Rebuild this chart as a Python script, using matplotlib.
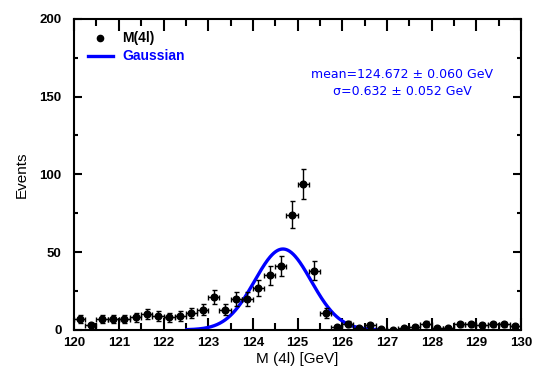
"""M(4l) spectrum with Gaussian fit, recreated in matplotlib."""

import matplotlib
matplotlib.use("Agg")
import matplotlib.pyplot as plt
import numpy as np

# --- data ---
mass = [120.125, 120.375, 120.625, 120.875, 121.125, 121.375, 121.625, 121.875,
        122.125, 122.375, 122.625, 122.875, 123.125, 123.375, 123.625, 123.875,
        124.125, 124.375, 124.625, 124.875, 125.125, 125.375, 125.625, 125.875,
        126.125, 126.375, 126.625, 126.875, 127.125, 127.375, 127.625, 127.875,
        128.125, 128.375, 128.625, 128.875, 129.125, 129.375, 129.625, 129.875]
events = [7, 3, 7, 7, 7, 8, 10, 9,
          8, 9, 11, 13, 21, 13, 20, 20,
          27, 35, 41, 74, 94, 38, 11, 2,
          4, 1, 3, 0.5, 0, 1, 2, 4,
          1, 1, 3.5, 3.5, 3, 3.5, 3.5, 2.5]
half_bin = 0.125

fit_mean = 124.672
fit_mean_err = 0.060
fit_sigma = 0.632
fit_sigma_err = 0.052
fit_amp = 52.0
fit_range = (122.52, 126.82)

BLUE = "#0000ff"
SANS = ["Liberation Sans", "DejaVu Sans"]

plt.rcParams.update({
    "font.family": SANS,
    "axes.linewidth": 1.5,
    "xtick.direction": "in",
    "ytick.direction": "in",
    "xtick.top": True,
    "ytick.right": True,
})

fig = plt.figure(figsize=(5.45, 3.77), dpi=100)
ax = fig.add_axes([0.136, 0.125, 0.820, 0.825])

ev = np.asarray(events, dtype=float)
ax.errorbar(mass, ev, yerr=np.sqrt(ev), xerr=half_bin, fmt="o", color="black",
            ms=4.8, elinewidth=1.0, capsize=1.8, capthick=1.0, zorder=3)

xs = np.linspace(fit_range[0], fit_range[1], 400)
gauss = fit_amp * np.exp(-0.5 * ((xs - fit_mean) / fit_sigma) ** 2)
ax.plot(xs, gauss, color=BLUE, lw=2.4, zorder=2)

ax.set_xlim(120, 130)
ax.set_ylim(0, 200)
ax.set_xticks(np.arange(120, 131, 1))
ax.set_xticks(np.arange(120.5, 130, 1), minor=True)
ax.set_yticks([0, 50, 100, 150, 200])
ax.set_yticks([25, 75, 125, 175], minor=True)
ax.tick_params(which="major", axis="x", length=8.5, width=1.5, pad=5)
ax.tick_params(which="minor", axis="x", length=5, width=1.5)
ax.tick_params(which="major", axis="y", length=6, width=1.5, pad=9)
ax.tick_params(which="minor", axis="y", length=3, width=1.5)
for lab in ax.get_xticklabels() + ax.get_yticklabels():
    lab.set_fontweight("bold")
    lab.set_fontsize(9.5)

ax.set_xlabel("M (4l) [GeV]", fontsize=11, labelpad=2)
ax.set_ylabel("Events", fontsize=11, labelpad=8)

# legend drawn by hand, as in the original
ax.plot([0.058], [0.939], "o", color="black", ms=4.5, transform=ax.transAxes,
        clip_on=False)
ax.text(0.107, 0.939, "M(4l)", transform=ax.transAxes, fontsize=10,
        fontweight="bold", va="center", ha="left")
ax.plot([0.031, 0.087], [0.881, 0.881], color=BLUE, lw=2.4,
        transform=ax.transAxes)
ax.text(0.107, 0.881, "Gaussian", transform=ax.transAxes, fontsize=10,
        fontweight="bold", color=BLUE, va="center", ha="left")

ax.text(0.734, 0.820, f"mean={fit_mean:.3f} \u00b1 {fit_mean_err:.3f} GeV",
        transform=ax.transAxes, fontsize=9, color=BLUE, ha="center",
        va="center", family="DejaVu Sans")
ax.text(0.734, 0.765, f"\u03c3={fit_sigma:.3f} \u00b1 {fit_sigma_err:.3f} GeV",
        transform=ax.transAxes, fontsize=9, color=BLUE, ha="center",
        va="center", family="DejaVu Sans")

fig.savefig("out.png", dpi=100)
